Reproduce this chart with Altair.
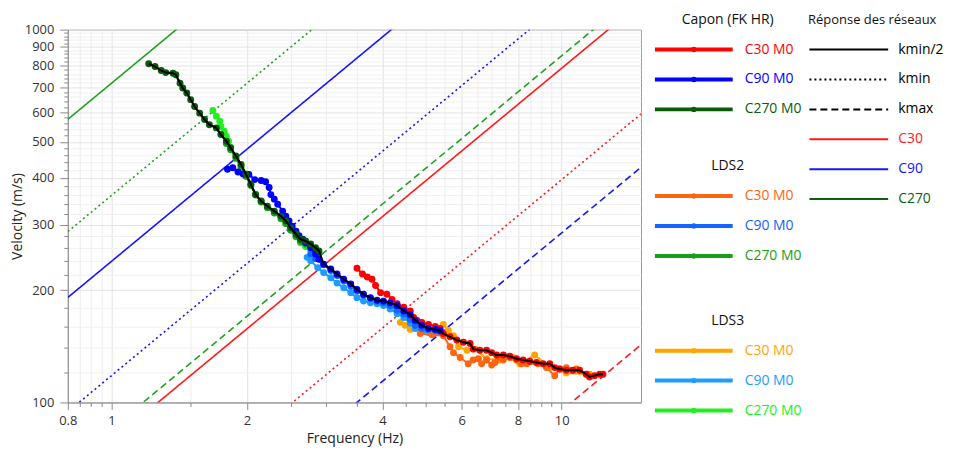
import altair as alt
import pandas as pd

# ---------------- data ----------------
# Capon (FK HR)
capon_c30_f = [3.51, 3.61, 3.70, 3.79, 3.86, 3.96, 4.09, 4.20, 4.31, 4.46, 4.61, 4.69, 4.77, 4.89, 5.06, 5.24, 5.37,
               5.46, 5.65, 5.85, 6.05, 6.26, 6.36, 6.58, 6.81, 6.99, 7.17, 7.42, 7.67, 7.94, 8.21, 8.50, 8.79, 9.09,
               9.41, 9.65, 9.90, 10.24, 10.59, 10.96, 11.34, 11.53, 11.83, 12.14, 12.35]
capon_c30_v = [229, 221, 217, 214, 206, 197, 195, 189, 184, 180, 176, 169, 166, 164, 162, 160, 158,
               153, 150, 147, 145, 144, 139, 138, 138, 136, 134, 134, 133, 131, 130, 129, 128, 127,
               127, 124, 123, 122, 122, 122, 119, 117, 118, 119, 119]
capon_c90_f = [1.81, 1.86, 1.91, 1.96, 2.02, 2.08, 2.15, 2.20, 2.24, 2.26, 2.30, 2.34, 2.40, 2.44, 2.48, 2.52, 2.57,
               2.61, 2.66, 2.70, 2.77, 2.84, 2.89, 2.96, 3.07, 3.17, 3.28, 3.40, 3.51, 3.63, 3.76, 3.89, 4.02, 4.16,
               4.31, 4.46, 4.61, 4.73, 4.89, 5.06, 5.24, 5.37]
capon_c90_v = [422, 426, 415, 410, 409, 396, 394, 391, 377, 361, 351, 340, 326, 316, 307, 297, 288,
               280, 274, 268, 260, 250, 242, 235, 228, 221, 214, 208, 201, 195, 191, 188, 187, 185,
               182, 176, 172, 166, 161, 158, 157, 156]
capon_c270_f = [1.21, 1.25, 1.29, 1.32, 1.37, 1.39, 1.42, 1.44, 1.47, 1.50, 1.53, 1.57, 1.61, 1.65, 1.71, 1.75, 1.80,
                1.84, 1.89, 1.94, 1.99, 2.04, 2.09, 2.15, 2.22, 2.30, 2.38, 2.44, 2.50, 2.57, 2.63, 2.70, 2.77, 2.84,
                2.89]
capon_c270_v = [810, 796, 777, 767, 764, 757, 718, 697, 676, 649, 622, 597, 574, 556, 545, 523, 502,
                482, 458, 435, 409, 385, 361, 347, 336, 326, 316, 307, 294, 283, 274, 271, 266, 260,
                255]

# LDS2
lds2_c30_f = [4.85, 5.15, 5.46, 5.65, 5.75, 5.95, 6.20, 6.36, 6.53, 6.64, 6.81, 6.99, 7.11, 7.23, 7.42, 7.67, 7.94,
              8.14, 8.36, 8.86, 9.25, 9.65, 9.90, 10.24, 10.78, 11.34]
lds2_c30_v = [153, 152, 151, 141, 136, 132, 127, 130, 131, 127, 130, 126, 128, 132, 130, 132, 130,
              127, 127, 127, 124, 118, 123, 124, 123, 119]
lds2_c90_f = [2.77, 2.84, 2.96, 3.07, 3.17, 3.28, 3.40, 3.51, 3.63, 3.76, 3.89, 4.02, 4.16, 4.31, 4.46, 4.61, 4.73,
              4.89, 5.06, 5.24, 5.37]
lds2_c90_v = [250, 243, 234, 226, 219, 212, 205, 199, 194, 190, 187, 185, 182, 177, 173, 167, 161,
              158, 157, 156, 155]
lds2_c270_f = [1.80, 1.84, 1.89, 1.94, 1.99, 2.04, 2.09, 2.15, 2.22, 2.30, 2.38, 2.44, 2.50, 2.57, 2.63, 2.70, 2.77,
               2.84, 2.89]
lds2_c270_v = [495, 476, 452, 428, 404, 382, 360, 345, 333, 322, 311, 302, 290, 279, 270, 266, 261,
               256, 251]

# LDS3
lds3_c30_f = [4.38, 4.49, 4.61, 4.73, 4.89, 5.11, 5.28, 5.46, 5.60, 5.75, 5.90, 6.16, 6.42, 6.81, 7.29, 7.79, 8.07,
              8.71, 9.41, 10.24, 11.53]
lds3_c30_v = [164, 161, 157, 158, 156, 156, 157, 162, 156, 151, 141, 138, 139, 131, 130, 132, 127,
              134, 124, 120, 119]
lds3_c90_f = [2.72, 2.77, 2.87, 2.96, 3.07, 3.17, 3.28, 3.40, 3.51, 3.63, 3.76, 3.89, 4.02, 4.16, 4.31, 4.46, 4.61,
              4.73, 4.89, 5.06, 5.24, 5.37]
lds3_c90_v = [245, 240, 230, 223, 216, 209, 203, 197, 191, 187, 185, 184, 182, 178, 173, 169, 163,
              158, 155, 154, 154, 155]
lds3_c270_f = [1.68, 1.71, 1.74, 1.75, 1.78, 1.80, 1.82, 1.84, 1.89, 1.94, 1.99, 2.04, 2.09, 2.15, 2.22, 2.30, 2.38,
               2.44, 2.50, 2.57, 2.63, 2.70, 2.77, 2.84]
lds3_c270_v = [607, 586, 568, 550, 534, 518, 502, 482, 455, 432, 410, 385, 362, 346, 334, 323, 313,
               302, 290, 278, 268, 262, 256, 250]

# array response lines: velocity at 1 Hz (v = c * f)
resp_arrays = ["C30", "C90", "C270"]
resp_kmin2 = [78.8, 239.0, 718.0]
resp_kmin = [39.6, 118.0, 359.0]
resp_kmax = [9.52, 28.5, 85.1]

x_ticks = [0.8, 0.85, 0.9, 0.95, 1, 1.5, 2, 2.5, 3, 3.5, 4, 4.5, 5, 5.5, 6, 6.5, 7, 7.5, 8, 8.5, 9, 9.5, 10]
x_labels = [0.8, 1, 2, 4, 6, 8, 10]
y_ticks = list(range(100, 1001, 20))

# ---------------- styling ----------------
FONT = "Open Sans"
series = [
    # (group, label, f, v, color)
    ("LDS3", "C30 M0", lds3_c30_f, lds3_c30_v, "#FFA500"),
    ("LDS3", "C90 M0", lds3_c90_f, lds3_c90_v, "#1E9BFF"),
    ("LDS3", "C270 M0", lds3_c270_f, lds3_c270_v, "#22EE22"),
    ("LDS2", "C30 M0", lds2_c30_f, lds2_c30_v, "#FF6410"),
    ("LDS2", "C90 M0", lds2_c90_f, lds2_c90_v, "#1464FF"),
    ("LDS2", "C270 M0", lds2_c270_f, lds2_c270_v, "#17A017"),
    ("Capon (FK HR)", "C30 M0", capon_c30_f, capon_c30_v, "#FF0000"),
    ("Capon (FK HR)", "C90 M0", capon_c90_f, capon_c90_v, "#0000FF"),
    ("Capon (FK HR)", "C270 M0", capon_c270_f, capon_c270_v, "#0A5C0A"),
]
resp_plot_colors = ["#FF1A1A", "#1515FF", "#22A022"]
resp_legend_colors = ["#FF1A1A", "#1515FF", "#0F5F0F"]
dash_range = [[1, 0], [2, 3], [7, 4]]

xscale = alt.Scale(type="log", domain=[0.8, 15], nice=False)
yscale = alt.Scale(type="log", domain=[100, 1000], nice=False)

lab_list = "[" + ",".join(str(v) for v in x_labels) + "]"
xaxis = alt.Axis(
    title="Frequency (Hz)", values=x_ticks,
    labelExpr="indexof(" + lab_list + ", datum.value) >= 0 ? format(datum.value, '~g') : ''",
    tickSize={"condition": {"test": "indexof(" + lab_list + ", datum.value) >= 0", "value": 7}, "value": 4},
    gridColor={"condition": {"test": "indexof([1,2,4,6,8,10], datum.value) >= 0", "value": "#E2E2E2"}, "value": "#EEEEEE"},
    labelOverlap=False, labelFlush=False, titlePadding=4, labelPadding=5,
)
yaxis = alt.Axis(
    title="Velocity (m/s)", values=y_ticks,
    labelExpr="datum.value % 100 == 0 ? format(datum.value, 'd') : ''",
    tickSize={"condition": {"test": "datum.value % 100 == 0", "value": 8}, "value": 4},
    gridColor={"condition": {"test": "datum.value % 100 == 0", "value": "#E4E4E4"}, "value": "#F0F0F0"},
    labelOverlap=False, labelFlush=False, titlePadding=0, labelPadding=6,
)

X = alt.X("f:Q", scale=xscale, axis=xaxis)
Y = alt.Y("v:Q", scale=yscale, axis=yaxis)

# response lines
rows = []
for style, consts in (("kmin/2", resp_kmin2), ("kmin", resp_kmin), ("kmax", resp_kmax)):
    for name, c, col in zip(resp_arrays, consts, resp_plot_colors):
        for f in (0.8, 15):
            rows.append({"id": name + style, "f": f, "v": c * f, "color": col, "style": style})
resp_df = pd.DataFrame(rows)

resp_layer = alt.Chart(resp_df).mark_line(clip=True, strokeWidth=1.6).encode(
    x=X, y=Y,
    color=alt.Color("color:N", scale=None),
    strokeDash=alt.StrokeDash("style:N", scale=alt.Scale(domain=["kmin/2", "kmin", "kmax"], range=dash_range), legend=None),
    detail="id:N",
)

layers = [resp_layer]
for grp, lab, fs, vs, col in series:
    df = pd.DataFrame({"f": fs, "v": vs})
    layers.append(
        alt.Chart(df).mark_line(color=col, strokeWidth=2, clip=True,
                                point=alt.OverlayMarkDef(color=col, filled=True, size=48, opacity=1)).encode(x=X, y=Y)
    )

# black selected curve: Capon C270 -> Capon C90 -> Capon C30
bf, bv = [], []
for f, v in zip(capon_c270_f, capon_c270_v):
    bf.append(f); bv.append(v)
for f, v in zip(capon_c90_f, capon_c90_v):
    if f > 2.9:
        bf.append(f); bv.append(v)
for f, v in zip(capon_c30_f, capon_c30_v):
    if f > 5.4:
        bf.append(f); bv.append(v)
black_df = pd.DataFrame({"f": bf, "v": bv})
layers.append(alt.Chart(black_df).mark_line(color="#000000", strokeWidth=2, clip=True).encode(x=X, y=Y))

main = alt.layer(*layers).properties(width=575, height=374, view=alt.ViewBackground(stroke="#9A9A9A"))

# ---------------- legend panel ----------------
group_titles = ["Capon (FK HR)", "LDS2", "LDS3"]
title_rows = [0, 4.9, 10.07]
ent = []
titles = []
for g, tr in zip(group_titles, title_rows):
    titles.append({"text": g, "row": tr, "cx": 87, "fs": 14})
    items = [s for s in series if s[0] == g]
    for i, s in enumerate(items):
        ent.append({"label": s[1], "color": s[4], "row": tr + 1 + i, "x0": 14, "x1": 92, "dot": 53, "tx": 104})
titles.append({"text": "Réponse des réseaux", "row": 0, "cx": 232, "fs": 13})
resp_leg = [("kmin/2", "#000000", "kmin/2"), ("kmin", "#000000", "kmin"), ("kmax", "#000000", "kmax")]
resp_leg += [(n, c, "kmin/2") for n, c in zip(resp_arrays, resp_legend_colors)]
ent2 = []
for i, (lab, col, st) in enumerate(resp_leg):
    ent2.append({"label": lab, "color": col, "row": 1 + i, "x0": 169, "x1": 248, "tx": 258, "style": st})

ent_df = pd.DataFrame(ent)
ent2_df = pd.DataFrame(ent2)
titles_df = pd.DataFrame(titles)

lx = alt.Scale(domain=[0, 290], nice=False, zero=False)
ly = alt.Scale(domain=[1 / 3, 1 / 3 + 374 / 30], reverse=True, nice=False, zero=False)
LFS = 14

leg_lines1 = alt.Chart(ent_df).mark_rule(strokeWidth=4).encode(
    x=alt.X("x0:Q", scale=lx, axis=None), x2="x1:Q",
    y=alt.Y("row:Q", scale=ly, axis=None), color=alt.Color("color:N", scale=None))
leg_dots1 = alt.Chart(ent_df).mark_point(filled=True, size=30, opacity=1).encode(
    x=alt.X("dot:Q", scale=lx, axis=None), y=alt.Y("row:Q", scale=ly, axis=None),
    color=alt.Color("color:N", scale=None))
leg_text1 = alt.Chart(ent_df).mark_text(align="left", baseline="middle", font=FONT, fontSize=LFS).encode(
    x=alt.X("tx:Q", scale=lx, axis=None), y=alt.Y("row:Q", scale=ly, axis=None),
    text="label:N", color=alt.Color("color:N", scale=None))
leg_lines2 = alt.Chart(ent2_df).mark_rule(strokeWidth=2).encode(
    x=alt.X("x0:Q", scale=lx, axis=None), x2="x1:Q",
    y=alt.Y("row:Q", scale=ly, axis=None), color=alt.Color("color:N", scale=None),
    strokeDash=alt.StrokeDash("style:N", scale=alt.Scale(domain=["kmin/2", "kmin", "kmax"], range=dash_range), legend=None))
leg_text2 = alt.Chart(ent2_df).mark_text(align="left", baseline="middle", font=FONT, fontSize=LFS).encode(
    x=alt.X("tx:Q", scale=lx, axis=None), y=alt.Y("row:Q", scale=ly, axis=None),
    text="label:N", color=alt.Color("color:N", scale=None))
leg_titles = alt.Chart(titles_df).mark_text(align="center", baseline="middle", font=FONT, color="#111111").encode(
    x=alt.X("cx:Q", scale=lx, axis=None), y=alt.Y("row:Q", scale=ly, axis=None), text="text:N",
    size=alt.Size("fs:Q", scale=None))

legend = alt.layer(leg_lines1, leg_dots1, leg_text1, leg_lines2, leg_text2, leg_titles).properties(
    width=290, height=374, view=alt.ViewBackground(stroke="transparent"))

chart = alt.hconcat(main, legend, spacing=0, bounds="flush").properties(
    padding={"left": 1, "top": 3, "right": 0, "bottom": 0}
).configure_axis(
    labelFont=FONT, labelFontSize=13, labelColor="#333333",
    titleFont=FONT, titleFontSize=14, titleFontWeight="normal", titleColor="#222222",
    domainColor="#8A8A8A", tickColor="#8A8A8A",
).configure_view(stroke="#9A9A9A")

chart.save("out.html", embed_options={"renderer": "svg", "actions": False})
